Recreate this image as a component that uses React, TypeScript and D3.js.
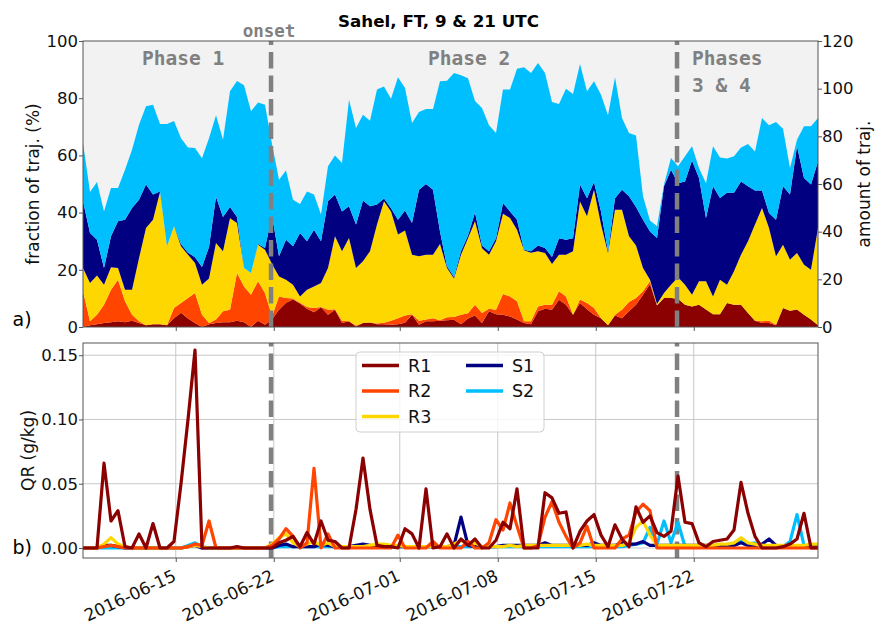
import { useEffect, useRef } from "react";
import * as d3 from "d3";

// ── Time axis: one value every 12 h (9 & 21 UTC) ─────────────────────────────
const START_UTC = Date.UTC(2016, 5, 8, 9);
const N_STEPS = 106;
const TIMES = d3.range(N_STEPS).map((i) => new Date(START_UTC + i * 12 * 3600 * 1000));

const ONSET = new Date(Date.UTC(2016, 5, 21, 19, 20));
const PHASE34 = new Date(Date.UTC(2016, 6, 20, 19, 20));

const TICK_DATES = ["2016-06-15", "2016-06-22", "2016-07-01", "2016-07-08", "2016-07-15", "2016-07-22"];
const FRAC_TICKS = [0, 20, 40, 60, 80, 100];
const AMOUNT_TICKS = [0, 20, 40, 60, 80, 100, 120];
const QR_TICKS = [0, 0.05, 0.1, 0.15];

const SERIES = ["R1", "R2", "R3", "S1", "S2"];
const COLORS: Record<string, string> = {
  R1: "#8b0000",
  R2: "#ff4500",
  R3: "#ffd700",
  S1: "#000080",
  S2: "#00bfff",
};

// ── a) fraction of trajectories per class (%) ────────────────────────────────
const R1_FRAC = [
  0, 0.6, 1, 1.4, 1.7, 2, 1.7, 2.2, 1.4, 0.6,
  1, 1, 0.6, 3.1, 5, 3, 1.4, 0, 1, 1.4,
  1.7, 1.7, 2.2, 1.7, 0, 2.2, 0.8, 2.6, 6, 8.5,
  9.6, 8.2, 6.4, 5.2, 6.9, 4.3, 6, 1.4, 2, 0.2,
  1.4, 1.6, 1, 1, 0.8, 1, 1.5, 4.3, 0.8, 2,
  2, 2.2, 2.4, 2.5, 1, 3, 4, 1.4, 5.5, 4.5,
  4.3, 3.7, 2.6, 1.4, 1, 5.5, 6.4, 6, 9.5, 7.8,
  4.3, 8.4, 6.2, 4.3, 3.1, 0.6, 4, 3.1, 5.5, 7.8,
  11.3, 15, 7.5, 10.1, 10.1, 9.9, 7.8, 7.2, 7.8, 6.1,
  4.5, 4.5, 8.4, 7.8, 7.8, 4.9, 2.2, 1.4, 1.4, 0.6,
  6.6, 5.7, 6.1, 4.3, 2.6, 0.6,
];
const R2_FRAC = [
  12.5, 1.4, 3.3, 6.4, 11.3, 14.5, 7.3, 2.1, 0.6, 0,
  0, 0, 0, 3.5, 3.4, 7.1, 10.5, 4.3, 0.4, 1.2,
  3.8, 4.3, 16.7, 12.5, 11.3, 13.8, 11.1, 1.1, 4.7, 1.6,
  0.4, 0.3, 0.6, 1.4, 0.1, 1.7, 0.2, 0.8, 0, 0.3,
  0, 0, 0.2, 0.5, 1.4, 2.1, 2.5, 0.2, 1.4, 0.6,
  1.1, 0.2, 1, 1, 3.3, 1.8, 3.8, 3.5, 0.9, 1.5,
  7.2, 7, 6.4, 0.6, 1, 1.7, 1.4, 1.8, 3, 2.9,
  0, 1.2, 2.2, 2.3, 0, 0, 0.3, 2.9, 3.2, 2.3,
  1.2, 1, 0.1, 0, 0, 0, 0, 0, 0, 0,
  0, 0, 0, 0, 0, 0, 0, 0.6, 0.8, 0.2,
  0, 0, 0, 0, 0, 0,
];
const R3_FRAC = [
  8.1, 13.4, 13.7, 7, 7.9, 4.1, 4, 8.7, 22, 34,
  36.5, 46.2, 27.6, 28.6, 19.8, 15.2, 10.5, 10.5, 15.6, 26.8,
  21, 32, 17.5, 6.4, 7.6, 12.8, 15.1, 18.3, 7, 6.4,
  4.8, 2.2, 6, 7.6, 8.4, 14.6, 25.5, 24.3, 29.1, 20.1,
  21.6, 24.9, 34.6, 42.5, 38.2, 29.2, 29.7, 20.8, 22.5, 22.7,
  22.2, 26.6, 17.2, 13.5, 21, 26.2, 29.2, 22.6, 18.9, 24,
  28.1, 27.4, 25, 24.8, 24, 19.3, 18.1, 14.2, 12.8, 14.6,
  22.2, 34.3, 30.3, 41.4, 32.7, 25.3, 36.7, 35, 23, 18.4,
  8.1, 0.5, 0.4, 1.8, 4.7, 7.5, 7, 4.1, 8.2, 9.9,
  6.2, 12, 6.4, 11.7, 17.5, 25.1, 33.6, 39.6, 32.4, 23.9,
  22.2, 17.8, 19.8, 17.5, 17.4, 34,
];
const S1_FRAC = [
  23.4, 17.5, 12.5, 5.8, 10.8, 16.4, 24.5, 28.6, 20.5, 15.2,
  8.8, 0.2, 0, 0, 0.8, 0.7, 2, 6.2, 11, 16.1,
  12, 4, 2.1, 0, 0, 0.2, 0.6, 17, 7, 14,
  13.4, 22.2, 17, 19.8, 14.6, 23.4, 14.6, 13.9, 11.1, 15.2,
  21.2, 15.7, 7, 0.9, 1.1, 5.2, 7, 11.1, 23.3, 24.7,
  22.7, 4.4, 0.6, 0.5, 1.2, 1, 3, 1, 1.2, 1,
  3.8, 2.3, 3.5, 0.2, 0.5, 2, 1.7, 2.5, 5.7, 5.2,
  4.5, 5.9, 6.3, 2.7, 4.6, 0.6, 4, 7, 14, 13.5,
  16.9, 16.9, 23.1, 37.3, 40.2, 32.9, 36.1, 46.9, 36.1, 22.1,
  38.5, 28.6, 32.1, 27.4, 25.6, 19.2, 11.9, 6.1, 5.3, 12.8,
  20.4, 22.8, 37.3, 30.3, 29.8, 23.3,
];
const S2_FRAC = [
  20.3, 14.3, 20.2, 19.8, 16.9, 11.6, 17.5, 20.4, 26.2, 27.4,
  31.4, 23.6, 42.8, 36.8, 37, 36.8, 38.2, 38, 38, 28.5,
  27, 40.4, 47.5, 63.9, 56.5, 49.5, 50.1, 25, 26.8, 24.2,
  16.3, 10.1, 17.4, 12.3, 9.3, 12.2, 13.7, 16.9, 37.3, 33.8,
  30, 29.9, 40.2, 39.2, 38.3, 49.8, 42.9, 34.9, 27.2, 26.2,
  28.2, 52.5, 64.9, 71.3, 61.5, 55, 39, 48.1, 44, 36.8,
  39.6, 42.6, 52.8, 63.8, 62.3, 63.8, 61.2, 54.2, 47, 52.8,
  50.5, 42.2, 37.4, 35.2, 40.8, 47.5, 42.3, 25.1, 22.1, 25,
  8.2, 3.8, 4.1, 0.6, 4.1, 5.9, 8.8, 5, 3.5, 12.2,
  14, 14.2, 12, 12.8, 11.9, 14.8, 13.7, 25.4, 30.6, 34.2,
  20.1, 9.3, 2.3, 18.1, 20.4, 15.2,
];

// ── b) rain water mixing ratio QR (g/kg) ─────────────────────────────────────
const R1_QR = [
  0, 0, 0, 0.066, 0.021, 0.029, 0.001, 0, 0.011, 0,
  0.019, 0, 0, 0.005, 0.05, 0.1, 0.154, 0, 0, 0,
  0, 0, 0.001, 0, 0, 0, 0, 0, 0.004, 0.006,
  0.009, 0.001, 0.012, 0.003, 0.021, 0.006, 0.005, 0, 0, 0.03,
  0.07, 0.03, 0.002, 0.001, 0.001, 0, 0.015, 0.011, 0, 0.046,
  0, 0.001, 0.011, 0, 0.007, 0.002, 0.007, 0, 0, 0.006,
  0.02, 0.015, 0.046, 0, 0, 0, 0.043, 0.039, 0.027, 0.028,
  0, 0.013, 0.021, 0.026, 0.01, 0.001, 0.018, 0.007, 0.001, 0.032,
  0.02, 0.025, 0.012, 0.009, 0.013, 0.056, 0.02, 0.019, 0.004, 0.001,
  0.005, 0.006, 0.007, 0.014, 0.051, 0.027, 0.009, 0, 0, 0,
  0.001, 0.003, 0.007, 0.027, 0, 0,
];
const R2_QR = [
  0, 0, 0, 0.001, 0.002, 0.001, 0, 0, 0, 0,
  0, 0, 0, 0, 0, 0.001, 0.003, 0.002, 0.021, 0,
  0, 0, 0, 0, 0, 0, 0, 0.002, 0.007, 0.015,
  0.009, 0, 0.004, 0.062, 0, 0.011, 0, 0, 0, 0,
  0, 0, 0, 0, 0, 0.01, 0, 0, 0, 0,
  0.005, 0, 0, 0, 0, 0.005, 0, 0, 0.004, 0.022,
  0.014, 0.035, 0.017, 0, 0, 0.002, 0.024, 0.036, 0.02, 0.009,
  0, 0.004, 0.017, 0, 0, 0, 0, 0.007, 0.01, 0.028,
  0.034, 0.029, 0, 0, 0, 0, 0, 0, 0, 0,
  0, 0, 0, 0, 0, 0, 0, 0, 0, 0,
  0, 0, 0, 0, 0, 0,
];
const R3_QR = [
  0, 0, 0, 0.003, 0.008, 0.003, 0.001, 0, 0, 0,
  0, 0, 0, 0, 0, 0.001, 0.002, 0.001, 0, 0,
  0, 0, 0, 0, 0, 0, 0, 0.003, 0.008, 0.011,
  0.004, 0.001, 0.003, 0.005, 0.002, 0.004, 0.001, 0.001, 0.001, 0.001,
  0.001, 0.002, 0.003, 0.003, 0.002, 0.002, 0.001, 0.001, 0.001, 0.001,
  0.001, 0.001, 0.001, 0.003, 0.006, 0.003, 0.004, 0.001, 0.001, 0.001,
  0.001, 0.002, 0.001, 0.002, 0.002, 0.002, 0.002, 0.002, 0.002, 0.002,
  0.002, 0.002, 0.003, 0.002, 0.002, 0.002, 0.002, 0.002, 0.004, 0.016,
  0.021, 0.01, 0.002, 0.002, 0.002, 0.002, 0.002, 0.002, 0.002, 0.002,
  0.002, 0.003, 0.003, 0.004, 0.008, 0.004, 0.003, 0.002, 0.002, 0.002,
  0.002, 0.002, 0.002, 0.002, 0.003, 0.003,
];
const S1_QR = [
  0, 0, 0, 0.002, 0.002, 0.001, 0, 0, 0, 0,
  0, 0, 0, 0, 0, 0.001, 0.002, 0, 0, 0,
  0, 0, 0, 0, 0, 0, 0, 0, 0.002, 0.003,
  0.001, 0.001, 0.001, 0.001, 0.003, 0.002, 0.001, 0.001, 0.001, 0.002,
  0.003, 0.002, 0.001, 0.001, 0.001, 0.001, 0.001, 0.001, 0.001, 0.001,
  0.001, 0.001, 0.001, 0.002, 0.024, 0.002, 0.001, 0.001, 0.001, 0.001,
  0.002, 0.002, 0.002, 0.002, 0.002, 0.002, 0.004, 0.002, 0.002, 0.002,
  0.002, 0.002, 0.002, 0.004, 0.002, 0.002, 0.002, 0.004, 0.003, 0.003,
  0.005, 0.002, 0.002, 0.002, 0.002, 0.002, 0.002, 0.002, 0.002, 0.002,
  0.002, 0.002, 0.002, 0.002, 0.004, 0.002, 0.002, 0.003, 0.007, 0.002,
  0.001, 0.001, 0.001, 0.001, 0.001, 0.001,
];
const S2_QR = [
  0, 0, 0, 0, 0, 0, 0, 0, 0, 0,
  0, 0, 0, 0, 0, 0.002, 0.004, 0.001, 0, 0,
  0, 0, 0, 0, 0, 0, 0, 0, 0.001, 0.001,
  0.001, 0.001, 0.001, 0.001, 0.001, 0.001, 0.001, 0.001, 0.001, 0.001,
  0.001, 0.001, 0.001, 0.001, 0.001, 0.001, 0.001, 0.001, 0.001, 0.001,
  0.001, 0.001, 0.001, 0.001, 0.001, 0.001, 0.001, 0.001, 0.001, 0.001,
  0.001, 0.001, 0.001, 0.001, 0.001, 0.001, 0.001, 0.001, 0.001, 0.001,
  0.001, 0.001, 0.001, 0.001, 0.001, 0.001, 0.001, 0.001, 0.002, 0.003,
  0.004, 0.016, 0.003, 0.021, 0.004, 0.02, 0.001, 0.001, 0.001, 0.001,
  0.001, 0.001, 0.001, 0.002, 0.006, 0.003, 0.004, 0.001, 0.001, 0.001,
  0.001, 0.005, 0.026, 0.002, 0.001, 0.001,
];

const FRAC: Record<string, number[]> = { R1: R1_FRAC, R2: R2_FRAC, R3: R3_FRAC, S1: S1_FRAC, S2: S2_FRAC };
const QR: Record<string, number[]> = { R1: R1_QR, R2: R2_QR, R3: R3_QR, S1: S1_QR, S2: S2_QR };

const W = 882;
const H = 625;
const FONT = "'DejaVu Sans', sans-serif";
const MONO = "'DejaVu Sans Mono', monospace";
const GREY = "#808080";
const SPINE = "#555";

// panel frames
const PL = 83;
const PR = 818;
const A_TOP = 41;
const A_BOT = 327;
const B_TOP = 343;
const B_BOT = 558;

type Row = { t: Date } & Record<string, number | Date>;

export default function App() {
  const svgRef = useRef<SVGSVGElement>(null);

  useEffect(() => {
    const svg = d3.select(svgRef.current);
    svg.selectAll("*").remove();

    const x = d3.scaleUtc().domain([TIMES[0], TIMES[N_STEPS - 1]]).range([PL, PR]);
    const yFrac = d3.scaleLinear().domain([0, 100]).range([A_BOT, A_TOP]);
    const yAmt = d3.scaleLinear().domain([0, 120]).range([A_BOT, A_TOP]);
    const yQR = d3.scaleLinear().domain([-0.0078, 0.1595]).range([B_BOT, B_TOP]);
    const tickDates = TICK_DATES.map((s) => d3.utcParse("%Y-%m-%d")(s)!);

    const defs = svg.append("defs");
    defs.append("clipPath").attr("id", "clipA")
      .append("rect").attr("x", PL).attr("y", A_TOP).attr("width", PR - PL).attr("height", A_BOT - A_TOP);
    defs.append("clipPath").attr("id", "clipB")
      .append("rect").attr("x", PL).attr("y", B_TOP).attr("width", PR - PL).attr("height", B_BOT - B_TOP);

    // ── Panel a: stacked fractions ─────────────────────────────────────────
    svg.append("rect")
      .attr("x", PL).attr("y", A_TOP).attr("width", PR - PL).attr("height", A_BOT - A_TOP)
      .attr("fill", "#f2f2f2");

    const rows: Row[] = TIMES.map((t, i) => {
      const r: Row = { t } as Row;
      SERIES.forEach((k) => { r[k] = FRAC[k][i]; });
      return r;
    });
    const stacked = d3.stack<Row>().keys(SERIES).value((d, k) => d[k] as number)(rows);
    const area = d3.area<d3.SeriesPoint<Row>>()
      .x((d) => x(d.data.t))
      .y0((d) => yFrac(d[0]))
      .y1((d) => yFrac(d[1]));

    svg.append("g").attr("clip-path", "url(#clipA)")
      .selectAll("path")
      .data(stacked)
      .join("path")
      .attr("d", (s) => area(s))
      .attr("fill", (s) => COLORS[s.key]);

    const dashed = (g: d3.Selection<SVGGElement, unknown, null, undefined>, y0: number, y1: number) => {
      [ONSET, PHASE34].forEach((d) => {
        g.append("line")
          .attr("x1", x(d)).attr("x2", x(d))
          .attr("y1", y0).attr("y2", y1)
          .attr("stroke", GREY)
          .attr("stroke-width", 4.5)
          .attr("stroke-dasharray", "16.5,7");
      });
    };
    dashed(svg.append("g"), A_BOT, A_TOP);

    svg.append("rect")
      .attr("x", PL).attr("y", A_TOP).attr("width", PR - PL).attr("height", A_BOT - A_TOP)
      .attr("fill", "none").attr("stroke", SPINE).attr("stroke-width", 1);

    const styleAxis = (g: d3.Selection<SVGGElement, unknown, null, undefined>) => {
      g.attr("font-family", FONT).attr("font-size", 16.5);
      g.select(".domain").remove();
      g.selectAll("line").attr("stroke", SPINE);
      g.selectAll("text").attr("fill", "#111");
    };

    svg.append("g").attr("transform", `translate(${PL},0)`)
      .call(d3.axisLeft(yFrac).tickValues(FRAC_TICKS).tickSize(4).tickPadding(1))
      .call(styleAxis);
    svg.append("g").attr("transform", `translate(${PR},0)`)
      .call(d3.axisRight(yAmt).tickValues(AMOUNT_TICKS).tickSize(4).tickPadding(0))
      .call(styleAxis);
    svg.append("g").attr("transform", `translate(0,${A_BOT})`)
      .call(d3.axisBottom(x).tickValues(tickDates).tickSize(4).tickFormat(() => ""))
      .call(styleAxis);

    // phase annotations
    const mono = (txt: string, tx: number, ty: number, size: number, anchor = "start") =>
      svg.append("text")
        .attr("x", tx).attr("y", ty)
        .attr("text-anchor", anchor)
        .attr("font-family", MONO).attr("font-weight", "bold")
        .attr("font-size", size).attr("fill", GREY)
        .text(txt);
    mono("onset", x(ONSET) - 2, 36.5, 17.5, "middle");
    mono("Phase 1", 142, 65, 19.5);
    mono("Phase 2", 428, 65, 19.5);
    mono("Phases", 692, 65, 19.5);
    mono("3 & 4", 692, 92, 19.5);

    svg.append("text")
      .attr("x", 438.5).attr("y", 27)
      .attr("text-anchor", "middle")
      .attr("font-family", FONT).attr("font-weight", "bold").attr("font-size", 16.7)
      .text("Sahel, FT, 9 & 21 UTC");

    const ylabel = (txt: string, tx: number, ty: number) =>
      svg.append("text")
        .attr("transform", `translate(${tx},${ty}) rotate(-90)`)
        .attr("text-anchor", "middle")
        .attr("font-family", FONT).attr("font-size", 17).attr("fill", "#111")
        .text(txt);
    ylabel("fraction of traj. (%)", 38.5, (A_TOP + A_BOT) / 2);
    ylabel("amount of traj.", 870, (A_TOP + A_BOT) / 2);
    ylabel("QR (g/kg)", 34, (B_TOP + B_BOT) / 2);

    svg.append("text").attr("x", 12.5).attr("y", 326)
      .attr("font-family", FONT).attr("font-size", 19).text("a)");
    svg.append("text").attr("x", 12.5).attr("y", 554)
      .attr("font-family", FONT).attr("font-size", 19).text("b)");

    // ── Panel b: QR lines ──────────────────────────────────────────────────
    svg.append("rect")
      .attr("x", PL).attr("y", B_TOP).attr("width", PR - PL).attr("height", B_BOT - B_TOP)
      .attr("fill", "#fff");

    const grid = svg.append("g").attr("stroke", "#c8c8c8").attr("stroke-width", 1);
    tickDates.forEach((d) => {
      grid.append("line").attr("x1", x(d)).attr("x2", x(d)).attr("y1", B_TOP).attr("y2", B_BOT);
    });
    QR_TICKS.forEach((v) => {
      grid.append("line").attr("x1", PL).attr("x2", PR).attr("y1", yQR(v)).attr("y2", yQR(v));
    });

    dashed(svg.append("g"), B_BOT, B_TOP);

    const line = d3.line<number>()
      .x((_, i) => x(TIMES[i]))
      .y((v) => yQR(v));

    svg.append("g").attr("clip-path", "url(#clipB)")
      .selectAll("path")
      .data(SERIES.slice().reverse())
      .join("path")
      .attr("d", (k) => line(QR[k]))
      .attr("fill", "none")
      .attr("stroke", (k) => COLORS[k])
      .attr("stroke-width", 3.2)
      .attr("stroke-linejoin", "round");

    svg.append("rect")
      .attr("x", PL).attr("y", B_TOP).attr("width", PR - PL).attr("height", B_BOT - B_TOP)
      .attr("fill", "none").attr("stroke", SPINE).attr("stroke-width", 1);

    svg.append("g").attr("transform", `translate(${PL},0)`)
      .call(d3.axisLeft(yQR).tickValues(QR_TICKS).tickSize(4).tickPadding(1).tickFormat(d3.format(".2f")))
      .call(styleAxis);
    svg.append("g").attr("transform", `translate(0,${B_BOT})`)
      .call(d3.axisBottom(x).tickValues(tickDates).tickSize(4).tickFormat(() => ""))
      .call(styleAxis);

    // rotated date labels
    tickDates.forEach((d, i) => {
      svg.append("text")
        .attr("transform", `translate(${x(d) + 1.5},580) rotate(-25)`)
        .attr("text-anchor", "end")
        .attr("font-family", FONT).attr("font-size", 17).attr("fill", "#111")
        .text(TICK_DATES[i]);
    });

    // legend
    const lg = svg.append("g");
    lg.append("rect")
      .attr("x", 356).attr("y", 352).attr("width", 188).attr("height", 80).attr("rx", 4)
      .attr("fill", "#fff").attr("fill-opacity", 0.8)
      .attr("stroke", "#d0d0d0");
    const legendPos: Record<string, [number, number]> = {
      R1: [362, 365.5], R2: [362, 391], R3: [362, 416.5],
      S1: [466, 365.5], S2: [466, 391],
    };
    SERIES.forEach((k) => {
      const [lx, ly] = legendPos[k];
      lg.append("line")
        .attr("x1", lx).attr("x2", lx + 37).attr("y1", ly).attr("y2", ly)
        .attr("stroke", COLORS[k]).attr("stroke-width", 3.5);
      lg.append("text")
        .attr("x", lx + 46).attr("y", ly).attr("dy", "0.35em")
        .attr("font-family", FONT).attr("font-size", 17.5).attr("fill", "#111")
        .text(k);
    });
  }, []);

  return (
    <svg
      ref={svgRef}
      width={W}
      height={H}
      style={{ position: "absolute", left: 0, top: 0, background: "#fff" }}
    />
  );
}
